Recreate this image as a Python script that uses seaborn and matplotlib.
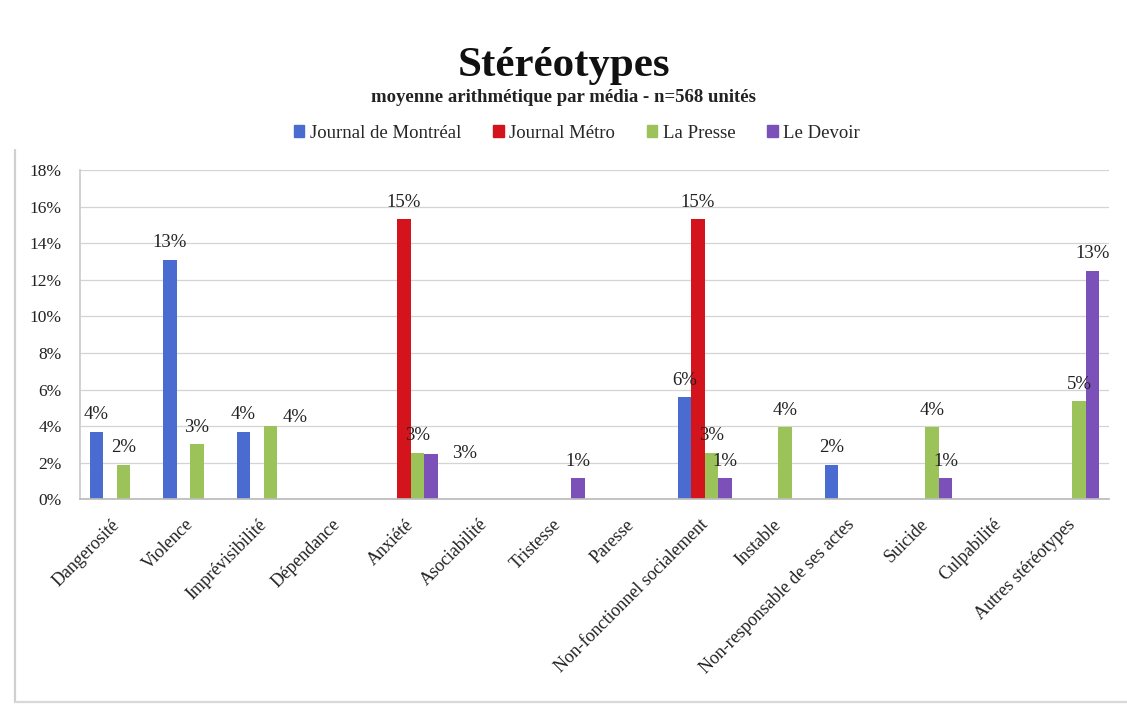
import math
import matplotlib
matplotlib.use("Agg")
import matplotlib.pyplot as plt
from matplotlib.patches import Rectangle
from matplotlib.lines import Line2D
from matplotlib.ticker import FixedLocator
from matplotlib.transforms import ScaledTranslation
import seaborn as sns
import pandas as pd

categories = ["Dangerosité", "Violence", "Imprévisibilité", "Dépendance", "Anxiété",
              "Asociabilité", "Tristesse", "Paresse", "Non-fonctionnel socialement",
              "Instable", "Non-responsable de ses actes", "Suicide", "Culpabilité",
              "Autres stéréotypes"]
media = ["Journal de Montréal", "Journal Métro", "La Presse", "Le Devoir"]

journal_de_montreal = [3.7, 13.1, 3.7, 0, 0, 0, 0, 0, 5.6, 0, 1.9, 0, 0, 0]
journal_metro       = [0, 0, 0, 0, 15.3, 0, 0, 0, 15.3, 0, 0, 0, 0, 0]
la_presse           = [1.9, 3.0, 4.0, 0, 2.55, 0, 0, 0, 2.55, 3.95, 0, 3.95, 0, 5.35]
le_devoir           = [0, 0, 0, 0, 2.5, 0, 1.15, 0, 1.15, 0, 0, 1.15, 0, 12.5]

colors = ["#4a6bd0", "#d4141c", "#9cc35a", "#7b50b8"]
y_ticks = [0, 2, 4, 6, 8, 10, 12, 14, 16, 18]

series = [journal_de_montreal, journal_metro, la_presse, le_devoir]
rows = []
for m, vals in zip(media, series):
    for c, v in zip(categories, vals):
        rows.append({"Catégorie": c, "Média": m, "Valeur": v})
df = pd.DataFrame(rows)

sns.set_theme(style="white")
plt.rcParams["font.family"] = ["Liberation Serif", "DejaVu Serif"]

fig = plt.figure(figsize=(11.27, 7.05), dpi=100)
ax = fig.add_axes([80 / 1127, 1 - 499.3 / 705, (1109 - 80) / 1127, (499.3 - 170) / 705])

sns.barplot(data=df, x="Catégorie", y="Valeur", hue="Média", order=categories,
            hue_order=media, palette=colors, width=0.735, saturation=1,
            ax=ax, legend=False, linewidth=0)

ax.set_ylim(0, 18)
ax.set_xlim(-0.5, len(categories) - 0.5)
ax.set_yticks(y_ticks)
ax.set_yticklabels([f"{t}%" for t in y_ticks], fontsize=12.5, color="#222222")
ax.yaxis.grid(True, color="#d4d4d4", linewidth=0.9)
ax.set_axisbelow(True)
ax.set_xlabel("")
ax.set_ylabel("")
for s in ["top", "right"]:
    ax.spines[s].set_visible(False)
ax.spines["left"].set_color("#cccccc")
ax.spines["bottom"].set_color("#bbbbbb")
ax.tick_params(axis="y", length=0, pad=13)
ax.tick_params(axis="x", length=0, pad=12)
ax.xaxis.set_minor_locator(FixedLocator([i + 0.5 for i in range(len(categories))]))
ax.tick_params(axis="x", which="minor", length=4, color="#bbbbbb", direction="out")

ax.set_xticks(range(len(categories)))
ax.set_xticklabels(categories, rotation=45, ha="right", rotation_mode="anchor",
                   fontsize=13, color="#222222")
shift = ScaledTranslation(-4 / 72, 0, fig.dpi_scale_trans)
for lbl in ax.get_xticklabels():
    lbl.set_transform(lbl.get_transform() + shift)

# label placement tweaks (style only): (series index, category index) -> offset in points
label_offsets = {(2, 2): (18, -6), (3, 4): (24, -12)}

for si, (cont, vals) in enumerate(zip(ax.containers, series)):
    for ci, (patch, v) in enumerate(zip(cont.patches, vals)):
        if v <= 0:
            continue
        dx, dy = label_offsets.get((si, ci), (0, 0))
        x = patch.get_x() + patch.get_width() / 2
        ax.annotate(f"{math.floor(v + 0.5)}%", xy=(x, patch.get_height()),
                    xytext=(dx, 6 + dy), textcoords="offset points",
                    ha="center", va="bottom", fontsize=13.5, color="#222222")

fig.text(0.5, 1 - 66 / 705, "Stéréotypes", ha="center", va="center",
         fontsize=31, fontweight="bold", color="#111111")
fig.text(0.5, 1 - 98 / 705, "moyenne arithmétique par média - n=568 unités",
         ha="center", va="center", fontsize=13.5, fontweight="bold", color="#222222")

handles = [Rectangle((0, 0), 1, 1, color=c) for c in colors]
fig.legend(handles, media, loc="center", bbox_to_anchor=(577 / 1127, 1 - 133 / 705),
           ncol=4, frameon=False, fontsize=13.5, handlelength=0.55, handleheight=0.55,
           handletextpad=0.3, columnspacing=1.7)

fig.add_artist(Line2D([15 / 1127, 15 / 1127], [3 / 705, 1 - 150 / 705],
                      transform=fig.transFigure, color="#d0d0d0", linewidth=1.6))
fig.add_artist(Line2D([15 / 1127, 1], [3 / 705, 3 / 705],
                      transform=fig.transFigure, color="#d8d8d8", linewidth=1.6))

fig.savefig("out.png", dpi=100, facecolor="white")
